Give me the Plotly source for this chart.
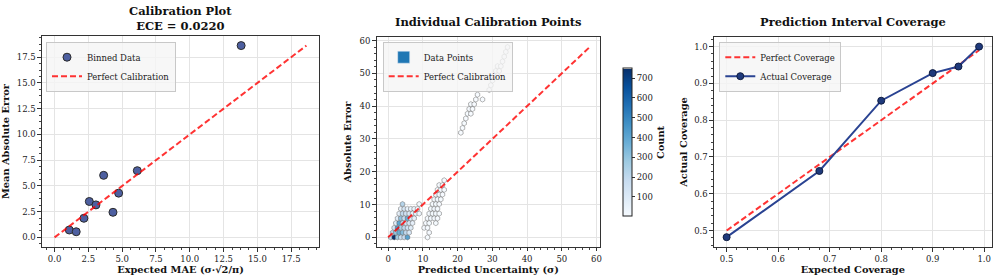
import plotly.graph_objects as go
import plotly.colors as pc

W, H = 997, 279
FONT = "DejaVu Serif"

# ---------------- Panel 1: calibration (binned) ----------------
expected_mae = [1.09, 1.60, 2.17, 2.57, 3.06, 3.63, 4.32, 4.74, 6.12, 13.80]
observed_mae = [0.72, 0.55, 1.86, 3.49, 3.16, 6.03, 2.44, 4.30, 6.48, 18.63]
ece_value = 0.0220
cal_ticks = [0.0, 2.5, 5.0, 7.5, 10.0, 12.5, 15.0, 17.5]

# ---------------- Panel 2: hexbin of individual points ----------------
hex_x = [
    0.77, 1.73, 2.69, 3.65, 4.61, 5.57,
    1.25, 2.21, 3.17, 4.13, 5.09, 6.05,
    1.73, 2.69, 3.65, 4.61, 5.57, 6.53,
    2.21, 3.17, 4.13, 5.09, 6.05, 7.01,
    2.69, 3.65, 4.61, 5.57, 6.53, 7.49,
    3.17, 4.13, 5.09, 6.05, 7.01, 7.97, 8.93,
    3.65, 4.61, 5.57, 6.53, 7.49, 8.45,
    4.13, 8.93,
    11.33, 11.81, 10.37, 11.33, 10.85, 11.81, 13.73,
    11.33, 12.29, 13.25, 14.21, 11.81, 12.77, 13.73, 14.69,
    12.29, 13.25, 14.21, 12.77, 13.73, 14.69, 13.25, 14.21, 15.17,
    13.73, 14.69, 15.65, 14.21, 15.17, 16.13, 14.69, 15.65, 16.13,
    20.93, 21.41, 21.89, 22.37, 22.85, 23.81, 23.33, 24.29, 23.81, 24.77,
    25.25, 27.17, 25.73, 29.09, 29.57, 30.05, 30.53, 31.49, 31.01, 31.97,
    31.49, 32.45, 32.93, 33.41, 33.89, 34.37,
]
hex_y = [
    0.0, 0.0, 0.0, 0.0, 0.0, 0.0,
    1.45, 1.45, 1.45, 1.45, 1.45, 1.45,
    2.9, 2.9, 2.9, 2.9, 2.9, 2.9,
    4.35, 4.35, 4.35, 4.35, 4.35, 4.35,
    5.8, 5.8, 5.8, 5.8, 5.8, 5.8,
    7.25, 7.25, 7.25, 7.25, 7.25, 7.25, 7.25,
    8.7, 8.7, 8.7, 8.7, 8.7, 8.7,
    10.15, 10.15,
    0.0, 1.45, 2.9, 2.9, 4.35, 4.35, 4.35,
    5.8, 5.8, 5.8, 5.8, 7.25, 7.25, 7.25, 7.25,
    8.7, 8.7, 8.7, 10.15, 10.15, 10.15, 11.6, 11.6, 11.6,
    13.05, 13.05, 13.05, 14.5, 14.5, 14.5, 15.95, 15.95, 17.4,
    31.9, 33.35, 34.8, 36.25, 37.7, 37.7, 39.15, 39.15, 40.6, 40.6,
    42.05, 42.05, 43.5, 44.95, 46.4, 47.85, 49.3, 49.3, 50.75, 50.75,
    52.2, 52.2, 53.65, 55.1, 56.55, 58.0,
]
hex_count = [
    200, 749, 280, 160, 180, 420,
    220, 300, 380, 330, 200, 120,
    120, 450, 250, 200, 150, 90,
    90, 400, 220, 150, 120, 70,
    80, 300, 180, 380, 100, 60,
    70, 200, 150, 100, 60, 50, 30,
    60, 120, 60, 50, 40, 30,
    230, 20,
    8, 10, 6, 12, 10, 15, 8,
    14, 18, 12, 6, 12, 20, 15, 8,
    15, 22, 12, 14, 20, 10, 12, 18, 8,
    10, 15, 6, 8, 12, 5, 6, 8, 4,
    2, 2, 3, 2, 3, 1, 2, 2, 3, 2,
    2, 1, 2, 2, 2, 3, 2, 2, 3, 2,
    2, 2, 2, 2, 2, 1,
]
max_abs_error = 58.2
unc_ticks = [0, 10, 20, 30, 40, 50, 60]
count_ticks = [100, 200, 300, 400, 500, 600, 700]

# ---------------- Panel 3: interval coverage ----------------
expected_coverage = [0.5, 0.68, 0.8, 0.9, 0.95, 0.99]
actual_coverage = [0.482, 0.662, 0.853, 0.928, 0.946, 1.0]
cov_ticks = [0.5, 0.6, 0.7, 0.8, 0.9, 1.0]

RED = "rgba(255,0,0,0.8)"
DASH = "6px,3px"
TICK_SIZE = 8.5
LABEL_SIZE = 9.8
TITLE_SIZE = 11.5
LEGEND_SIZE = 8.5


def px_x(a, b):
    return [a / W, b / W]


def px_y(top, bottom):
    return [1 - bottom / H, 1 - top / H]


def axis(domain, rng, ticks, fmt, anchor, title, minor_dtick, standoff=3):
    return dict(
        domain=domain, range=rng, anchor=anchor,
        tickmode="array", tickvals=ticks, ticktext=[fmt.format(t) for t in ticks],
        showline=True, mirror=True, linecolor="#333333", linewidth=1.2,
        ticks="outside", ticklen=3.5, tickwidth=1, tickcolor="#333333",
        showgrid=True, gridcolor="#e4e4e4", gridwidth=1, zeroline=False,
        tickfont=dict(family=FONT, size=TICK_SIZE, color="#222222"),
        title=dict(text=f"<b>{title}</b>",
                   font=dict(family=FONT, size=LABEL_SIZE, color="#111111"),
                   standoff=standoff),
        minor=dict(ticks="outside", ticklen=2, tickwidth=0.8, tickcolor="#444444",
                   tickmode="linear", tick0=0, dtick=minor_dtick, showgrid=False),
        automargin=False,
    )


fig = go.Figure()

# Panel 1
diag1 = max(max(expected_mae), max(observed_mae))
fig.add_trace(go.Scatter(
    x=expected_mae, y=observed_mae, mode="markers", name="Binned Data",
    marker=dict(size=8, color="#4d5fa0", line=dict(color="#2b2b2b", width=1)),
    xaxis="x", yaxis="y", legend="legend"))
fig.add_trace(go.Scatter(
    x=[0, diag1], y=[0, diag1], mode="lines", name="Perfect Calibration",
    line=dict(color=RED, width=2, dash=DASH), xaxis="x", yaxis="y", legend="legend"))

# Panel 2
fig.add_trace(go.Scatter(
    x=hex_x, y=hex_y, mode="markers", showlegend=False,
    marker=dict(symbol="hexagon", size=5.2, color=hex_count,
                colorscale=pc.sequential.Blues, cmin=1, cmax=749,
                line=dict(color="rgba(90,90,90,0.75)", width=0.6),
                colorbar=dict(
                    x=613.3 / W, xanchor="left", y=1 - 142.5 / H, yanchor="middle",
                    len=168.4 / H, lenmode="fraction", thickness=9, thicknessmode="pixels",
                    outlinewidth=1, outlinecolor="#222222",
                    tickmode="array", tickvals=count_ticks, ticks="outside", ticklen=3,
                    tickcolor="#333333",
                    tickfont=dict(family=FONT, size=TICK_SIZE, color="#222222"),
                    title=dict(text="<b>Count</b>", side="right",
                               font=dict(family=FONT, size=LABEL_SIZE, color="#111111")))),
    xaxis="x2", yaxis="y2"))
fig.add_trace(go.Bar(
    x=[None], y=[None], name="Data Points", marker=dict(color="#1f77b4"),
    xaxis="x2", yaxis="y2", legend="legend2"))
fig.add_trace(go.Scatter(
    x=[0, max_abs_error], y=[0, max_abs_error], mode="lines", name="Perfect Calibration",
    line=dict(color=RED, width=2, dash=DASH), xaxis="x2", yaxis="y2", legend="legend2"))

# Panel 3
fig.add_trace(go.Scatter(
    x=[expected_coverage[0], expected_coverage[-1]],
    y=[expected_coverage[0], expected_coverage[-1]], mode="lines", name="Perfect Coverage",
    line=dict(color=RED, width=2, dash=DASH), xaxis="x3", yaxis="y3", legend="legend3"))
fig.add_trace(go.Scatter(
    x=expected_coverage, y=actual_coverage, mode="lines+markers", name="Actual Coverage",
    line=dict(color="#2a4392", width=2),
    marker=dict(size=7, color="#1f3a7c", line=dict(color="#0f1c40", width=1)),
    xaxis="x3", yaxis="y3", legend="legend3"))

legend_common = dict(
    xanchor="left", yanchor="top", bgcolor="rgba(245,245,245,0.8)",
    bordercolor="#c8c8c8", borderwidth=1, itemwidth=30, tracegroupgap=0,
    font=dict(family=FONT, size=LEGEND_SIZE, color="#222222"))

fig.update_layout(
    width=W, height=H, autosize=False,
    margin=dict(l=0, r=0, t=0, b=0, pad=0, autoexpand=False),
    paper_bgcolor="white", plot_bgcolor="white",
    font=dict(family=FONT),
    bargap=0,
    xaxis=axis(px_x(42, 319), [-0.93, 19.56], cal_ticks, "{:.1f}", "y",
               "Expected MAE (σ·√2/π)", 0.625, 3),
    yaxis=axis(px_y(36, 247), [-0.93, 19.56], cal_ticks, "{:.1f}", "x",
               "Mean Absolute Error", 0.625, 8),
    xaxis2=axis(px_x(376.7, 600), [-3.3, 61.0], unc_ticks, "{:d}", "y2",
                "Predicted Uncertainty (σ)", 2, 3),
    yaxis2=axis(px_y(37.3, 246.7), [-2.85, 61.0], unc_ticks, "{:d}", "x2",
                "Absolute Error", 2, 6),
    xaxis3=axis(px_x(714, 991.7), [0.4755, 1.0145], cov_ticks, "{:.1f}", "y3",
                "Expected Coverage", 0.02, 3),
    yaxis3=axis(px_y(36.7, 247.3), [0.4545, 1.027], cov_ticks, "{:.1f}", "x3",
                "Actual Coverage", 0.02, 4),
    legend=dict(x=46 / W, y=1 - 41.7 / H, **legend_common),
    legend2=dict(x=382.7 / W, y=1 - 41.7 / H, **legend_common),
    legend3=dict(x=719.3 / W, y=1 - 41.7 / H, **legend_common),
    showlegend=True,
)

title_font = dict(family=FONT, size=TITLE_SIZE, color="#111111")
fig.add_annotation(text=f"<b>Calibration Plot</b><br><b>ECE = {ece_value:.4f}</b>",
                   x=(42 + 319) / 2 / W, y=1 - 35 / H, xref="paper", yref="paper",
                   xanchor="center", yanchor="bottom", showarrow=False, font=title_font)
fig.add_annotation(text="<b>Individual Calibration Points</b>",
                   x=(376.7 + 600) / 2 / W, y=1 - 22.3 / H, xref="paper", yref="paper",
                   xanchor="center", yanchor="middle", showarrow=False, font=title_font)
fig.add_annotation(text="<b>Prediction Interval Coverage</b>",
                   x=(714 + 991.7) / 2 / W, y=1 - 22.3 / H, xref="paper", yref="paper",
                   xanchor="center", yanchor="middle", showarrow=False, font=title_font)

fig.write_html("out.html", config={"displayModeBar": False},
               post_script="document.body.style.margin='0px';")
